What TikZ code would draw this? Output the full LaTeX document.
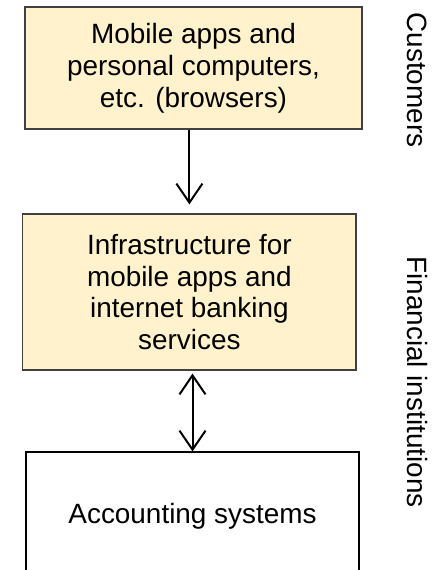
\documentclass[tikz,border=0pt]{standalone}
\usepackage{fontspec}
\setmainfont{Liberation Sans}
\usetikzlibrary{arrows.meta,calc}
\definecolor{BoxClr}{RGB}{255,242,204}
\definecolor{EdgeClr}{RGB}{64,64,64}

\begin{document}
\begin{tikzpicture}[x=1bp,y=-1bp,
  >={Straight Barb[length=19bp,width=26bp,line width=2bp]},
  box/.style={draw=EdgeClr,line width=1.2bp,fill=BoxClr,align=center,inner sep=0pt,
    font=\fontsize{28}{32}\selectfont},
  side/.style={rotate=-90,inner sep=0pt,font=\fontsize{28}{32}\selectfont},
  link/.style={line width=2bp}]
\useasboundingbox (0,0) rectangle (445,570);
\clip (0,0) rectangle (445,570);

\node[box,minimum width=337bp,minimum height=122bp] (mob) at (193.5,68)
  {Mobile apps and\\personal computers,\\etc. (browsers)};
\node[box,minimum width=333bp,minimum height=156bp] (inf) at (189.4,292)
  {Infrastructure for\\mobile apps and\\internet banking\\services};
\node[box,draw=black,fill=white,minimum width=333bp,minimum height=128bp] (acc) at (192.5,516)
  {Accounting systems};

\node[side] (cus) at (417,80) {Customers};
\node[side] (fin) at (417,382) {Financial institutions};

\draw[link,->,shorten >=9bp] (mob.south -| inf.north) -- (inf.north);
\draw[link,<->,shorten <=3bp] (inf.south -| acc.north) -- (acc.north);

\end{tikzpicture}
\end{document}
